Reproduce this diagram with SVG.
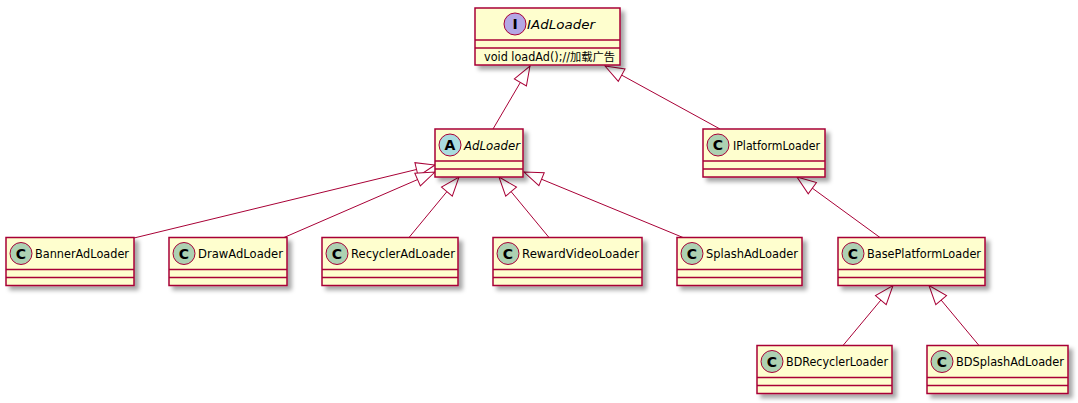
<svg xmlns="http://www.w3.org/2000/svg" width="1078" height="403" viewBox="0 0 1078 403">
<style>
.box{fill:#FEFECE;stroke:#A80036;stroke-width:1.5;filter:url(#sh)}
.sep{stroke:#A80036;stroke-width:1.5}
.cc{fill:#ADD1B2;stroke:#A80036;stroke-width:1}
.ca{fill:#A9DCDF;stroke:#A80036;stroke-width:1}
.ci{fill:#B4A7E5;stroke:#A80036;stroke-width:1}
.ltr{font-family:"DejaVu Sans","Liberation Sans",sans-serif;font-size:14px;font-weight:bold;fill:#000;text-anchor:middle}
.nm{font-family:"DejaVu Sans","Liberation Sans","Noto Sans CJK SC",sans-serif;font-size:11.5px;fill:#000}
.it{font-style:italic}
.edge{fill:none;stroke:#A80036;stroke-width:1;marker-start:url(#ext)}
</style>
<defs>
<filter id="sh" x="-10%" y="-10%" width="130%" height="140%">
<feDropShadow dx="4" dy="4" stdDeviation="2" flood-color="#000" flood-opacity="0.35"/>
</filter>
<marker id="ext" markerUnits="userSpaceOnUse" markerWidth="24" markerHeight="18" refX="1" refY="9" orient="auto" viewBox="0 0 24 18">
<path d="M1,9 L20,2 L20,16 Z" fill="#FFFFFF" stroke="#A80036" stroke-width="1"/>
</marker>
</defs>
<rect width="1078" height="403" fill="#FFFFFF"/>
<g id="connectors">
<path class="edge" d="M530,66 L493,129"/>
<path class="edge" d="M605,66 L720,129"/>
<path class="edge" d="M435,165 L134,238"/>
<path class="edge" d="M435,172 L284,237.5"/>
<path class="edge" d="M459,177 L409,237.5"/>
<path class="edge" d="M499,177 L549,237.5"/>
<path class="edge" d="M524,172 L683,237.5"/>
<path class="edge" d="M797,177 L880,237.5"/>
<path class="edge" d="M893,285.5 L843,345.5"/>
<path class="edge" d="M929,285.5 L979,345.5"/>
</g>
<g id="IAdLoader">
<rect class="box" x="475" y="8" width="145" height="57"/>
<line class="sep" x1="475" y1="40" x2="620" y2="40"/>
<line class="sep" x1="475" y1="48" x2="620" y2="48"/>
<circle class="ci" cx="515" cy="24" r="11"/>
<text class="ltr" x="515" y="29">I</text>
<text class="nm it" x="527" y="28.5" textLength="68" lengthAdjust="spacingAndGlyphs">IAdLoader</text>
<text class="nm" x="484" y="61" textLength="131" lengthAdjust="spacingAndGlyphs">void loadAd();//加载广告</text>
</g>
<g id="AdLoader">
<rect class="box" x="435" y="129" width="88" height="48"/>
<line class="sep" x1="435" y1="161" x2="523" y2="161"/>
<line class="sep" x1="435" y1="169" x2="523" y2="169"/>
<circle class="ca" cx="450" cy="145" r="11"/>
<text class="ltr" x="450" y="150">A</text>
<text class="nm it" x="464" y="149.5" textLength="56" lengthAdjust="spacingAndGlyphs">AdLoader</text>
</g>
<g id="IPlatformLoader">
<rect class="box" x="703" y="129" width="122" height="48"/>
<line class="sep" x1="703" y1="161" x2="825" y2="161"/>
<line class="sep" x1="703" y1="169" x2="825" y2="169"/>
<circle class="cc" cx="718" cy="145" r="11"/>
<text class="ltr" x="718" y="150">C</text>
<text class="nm" x="733" y="149.5" textLength="87" lengthAdjust="spacingAndGlyphs">IPlatformLoader</text>
</g>
<g id="BannerAdLoader">
<rect class="box" x="6" y="237.5" width="128" height="48"/>
<line class="sep" x1="6" y1="269.5" x2="134" y2="269.5"/>
<line class="sep" x1="6" y1="277.5" x2="134" y2="277.5"/>
<circle class="cc" cx="21" cy="253.5" r="11"/>
<text class="ltr" x="21" y="258.5">C</text>
<text class="nm" x="35" y="258" textLength="94" lengthAdjust="spacingAndGlyphs">BannerAdLoader</text>
</g>
<g id="DrawAdLoader">
<rect class="box" x="169" y="237.5" width="118" height="48"/>
<line class="sep" x1="169" y1="269.5" x2="287" y2="269.5"/>
<line class="sep" x1="169" y1="277.5" x2="287" y2="277.5"/>
<circle class="cc" cx="184" cy="253.5" r="11"/>
<text class="ltr" x="184" y="258.5">C</text>
<text class="nm" x="198" y="258" textLength="85" lengthAdjust="spacingAndGlyphs">DrawAdLoader</text>
</g>
<g id="RecyclerAdLoader">
<rect class="box" x="322" y="237.5" width="136" height="48"/>
<line class="sep" x1="322" y1="269.5" x2="458" y2="269.5"/>
<line class="sep" x1="322" y1="277.5" x2="458" y2="277.5"/>
<circle class="cc" cx="337" cy="253.5" r="11"/>
<text class="ltr" x="337" y="258.5">C</text>
<text class="nm" x="351" y="258" textLength="104" lengthAdjust="spacingAndGlyphs">RecyclerAdLoader</text>
</g>
<g id="RewardVideoLoader">
<rect class="box" x="493" y="237.5" width="149" height="48"/>
<line class="sep" x1="493" y1="269.5" x2="642" y2="269.5"/>
<line class="sep" x1="493" y1="277.5" x2="642" y2="277.5"/>
<circle class="cc" cx="508" cy="253.5" r="11"/>
<text class="ltr" x="508" y="258.5">C</text>
<text class="nm" x="522" y="258" textLength="117" lengthAdjust="spacingAndGlyphs">RewardVideoLoader</text>
</g>
<g id="SplashAdLoader">
<rect class="box" x="677" y="237.5" width="125" height="48"/>
<line class="sep" x1="677" y1="269.5" x2="802" y2="269.5"/>
<line class="sep" x1="677" y1="277.5" x2="802" y2="277.5"/>
<circle class="cc" cx="692" cy="253.5" r="11"/>
<text class="ltr" x="692" y="258.5">C</text>
<text class="nm" x="706" y="258" textLength="92" lengthAdjust="spacingAndGlyphs">SplashAdLoader</text>
</g>
<g id="BasePlatformLoader">
<rect class="box" x="838" y="237.5" width="147" height="48"/>
<line class="sep" x1="838" y1="269.5" x2="985" y2="269.5"/>
<line class="sep" x1="838" y1="277.5" x2="985" y2="277.5"/>
<circle class="cc" cx="853" cy="253.5" r="11"/>
<text class="ltr" x="853" y="258.5">C</text>
<text class="nm" x="867" y="258" textLength="114" lengthAdjust="spacingAndGlyphs">BasePlatformLoader</text>
</g>
<g id="BDRecyclerLoader">
<rect class="box" x="757" y="345.5" width="135" height="48"/>
<line class="sep" x1="757" y1="377.5" x2="892" y2="377.5"/>
<line class="sep" x1="757" y1="385.5" x2="892" y2="385.5"/>
<circle class="cc" cx="772" cy="361.5" r="11"/>
<text class="ltr" x="772" y="366.5">C</text>
<text class="nm" x="786" y="366" textLength="102" lengthAdjust="spacingAndGlyphs">BDRecyclerLoader</text>
</g>
<g id="BDSplashAdLoader">
<rect class="box" x="927" y="345.5" width="141" height="48"/>
<line class="sep" x1="927" y1="377.5" x2="1068" y2="377.5"/>
<line class="sep" x1="927" y1="385.5" x2="1068" y2="385.5"/>
<circle class="cc" cx="942" cy="361.5" r="11"/>
<text class="ltr" x="942" y="366.5">C</text>
<text class="nm" x="956" y="366" textLength="108" lengthAdjust="spacingAndGlyphs">BDSplashAdLoader</text>
</g>
</svg>
